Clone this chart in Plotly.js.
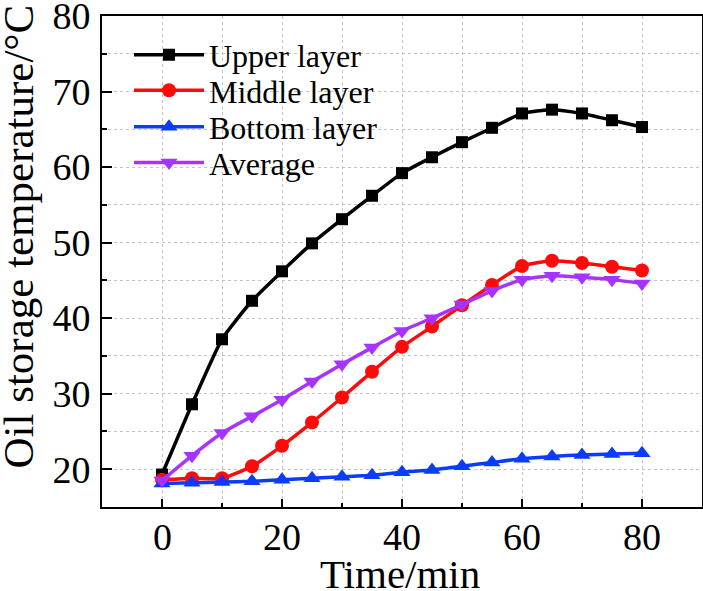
<!DOCTYPE html>
<html>
<head>
<meta charset="utf-8">
<script src="https://cdn.plot.ly/plotly-3.0.1.min.js"></script>
<style>
  html, body { margin: 0; padding: 0; background: #ffffff; }
  #chart { width: 703px; height: 591px; }
</style>
</head>
<body>
<div id="chart"></div>
<script>
// Sampling times (min)
const timeMin = [0, 5, 10, 15, 20, 25, 30, 35, 40, 45, 50, 55, 60, 65, 70, 75, 80];

// Oil storage temperature (°C) per layer
const upperLayer  = [19.3, 28.6, 37.2, 42.3, 46.2, 49.9, 53.1, 56.2, 59.2, 61.3, 63.3, 65.2, 67.1, 67.6, 67.1, 66.2, 65.3];
const middleLayer = [18.6, 18.8, 18.8, 20.4, 23.1, 26.2, 29.5, 32.9, 36.2, 38.9, 41.7, 44.4, 46.9, 47.6, 47.3, 46.8, 46.3];
const bottomLayer = [18.1, 18.2, 18.3, 18.4, 18.6, 18.8, 19.0, 19.2, 19.6, 19.9, 20.4, 20.9, 21.4, 21.7, 21.9, 22.0, 22.1];
const averageTemp = [18.5, 21.8, 24.8, 27.0, 29.2, 31.6, 33.9, 36.1, 38.3, 40.0, 41.8, 43.6, 45.1, 45.6, 45.4, 45.1, 44.6];

const seriesNames = ['Upper layer', 'Middle layer', 'Bottom layer', 'Average'];
const xTickVals = [0, 20, 40, 60, 80];
const yTickVals = [20, 30, 40, 50, 60, 70, 80];

const serif = '"Liberation Serif", "Times New Roman", serif';
const gridColor = '#c4c4c4';

function series(y, name, color, symbol, size, legendId) {
  return {
    x: timeMin, y: y, name: name, type: 'scatter', mode: 'lines+markers',
    line: { color: color, width: 3.5, shape: 'spline', smoothing: 0.5 },
    marker: { color: color, symbol: symbol, size: size },
    legend: legendId, cliponaxis: false
  };
}

const traces = [
  series(upperLayer,  seriesNames[0], '#000000', 'square',        12, 'legend'),
  series(middleLayer, seriesNames[1], '#ff0a0a', 'circle',        14, 'legend2'),
  series(bottomLayer, seriesNames[2], '#0a3cff', 'triangle-up',   15, 'legend3'),
  series(averageTemp, seriesNames[3], '#a633ff', 'triangle-down', 15, 'legend4')
];

// one legend per series so the rows sit at fixed heights
function legendAt(yPaper) {
  return {
    x: 0.045, y: yPaper, xanchor: 'left', yanchor: 'middle',
    bgcolor: 'rgba(0,0,0,0)', borderwidth: 0,
    font: { family: serif, size: 32, color: '#000' },
    itemwidth: 70, tracegroupgap: 0
  };
}

// x tick labels sit close under the axis line
const xTickLabels = xTickVals.map(v => ({
  text: String(v), xref: 'x', yref: 'paper', x: v, y: -0.0614,
  xanchor: 'center', yanchor: 'middle', showarrow: false,
  font: { family: serif, size: 38, color: '#000' }
}));

const layout = {
  width: 703, height: 591,
  margin: { l: 102, r: 1, t: 16, b: 84 },
  paper_bgcolor: '#ffffff', plot_bgcolor: '#ffffff',
  font: { family: serif, color: '#000000' },
  showlegend: true,
  legend:  legendAt(0.9205),
  legend2: legendAt(0.8485),
  legend3: legendAt(0.7740),
  legend4: legendAt(0.7014),
  xaxis: {
    range: [-10, 90], tickmode: 'array', tickvals: xTickVals, showticklabels: false,
    ticks: 'inside', ticklen: 8, tickwidth: 2, tickcolor: '#000',
    showline: true, linewidth: 2, linecolor: '#000', mirror: true,
    showgrid: true, gridcolor: gridColor, griddash: 'dot', gridwidth: 1,
    zeroline: false,
    minor: { dtick: 10, tick0: 0, ticks: 'inside', ticklen: 4, tickwidth: 2, tickcolor: '#000',
             showgrid: true, gridcolor: gridColor, griddash: 'dot', gridwidth: 1 }
  },
  yaxis: {
    range: [15, 80], tickmode: 'array', tickvals: yTickVals,
    ticks: 'inside', ticklen: 10, tickwidth: 2, tickcolor: '#000',
    showline: true, linewidth: 2, linecolor: '#000', mirror: true,
    showgrid: true, gridcolor: gridColor, griddash: 'dot', gridwidth: 1,
    zeroline: false,
    tickfont: { family: serif, size: 38, color: '#000' },
    ticklabelstandoff: 2, ticklabeloverflow: 'allow',
    minor: { dtick: 5, tick0: 15, ticks: 'inside', ticklen: 5, tickwidth: 2, tickcolor: '#000',
             showgrid: true, gridcolor: gridColor, griddash: 'dot', gridwidth: 1 }
  },
  annotations: xTickLabels.concat([
    {
      text: 'Oil storage temperature/°C', textangle: -90,
      xref: 'paper', yref: 'paper', x: -0.139, y: 0.55,
      xanchor: 'center', yanchor: 'middle', showarrow: false,
      font: { family: serif, size: 43, color: '#000' }
    },
    {
      text: 'Time/min',
      xref: 'paper', yref: 'paper', x: 0.497, y: -0.137,
      xanchor: 'center', yanchor: 'middle', showarrow: false,
      font: { family: serif, size: 41, color: '#000' }
    }
  ])
};

Plotly.newPlot('chart', traces, layout, { staticPlot: true, displayModeBar: false });
</script>
</body>
</html>
